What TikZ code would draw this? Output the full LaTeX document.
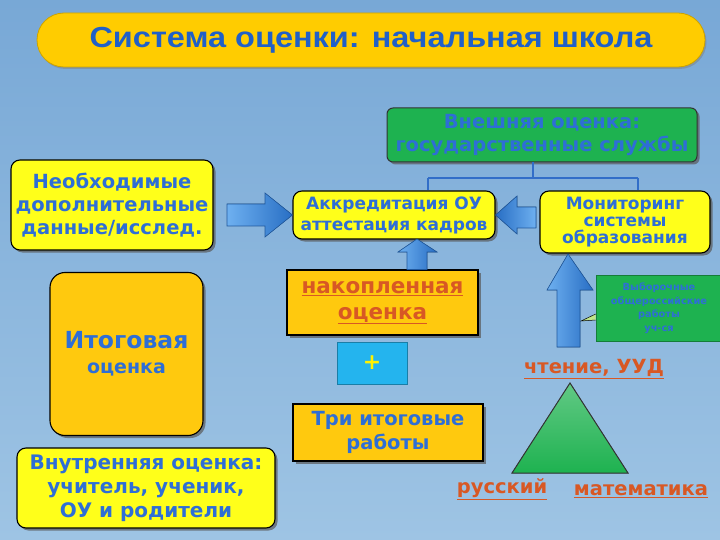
\documentclass[tikz,border=0pt]{standalone}
\usepackage{fontspec}
\setmainfont{DejaVu Sans}
\newfontfamily\titlefont[FakeStretch=1.12]{Liberation Sans}
\usetikzlibrary{shadows,calc}
\definecolor{bgtop}{RGB}{120,168,214}
\definecolor{bgbot}{RGB}{158,196,228}
\definecolor{titlefill}{RGB}{255,204,0}
\definecolor{titleblue}{RGB}{32,96,200}
\definecolor{boxyellow}{RGB}{255,255,26}
\definecolor{boxgold}{RGB}{255,201,14}
\definecolor{boxgreen}{RGB}{30,178,80}
\definecolor{txtblue}{RGB}{46,110,214}
\definecolor{txtorange}{RGB}{216,88,36}
\definecolor{pluscyan}{RGB}{36,180,238}
\definecolor{arrowlight}{RGB}{110,176,240}
\definecolor{arrowdark}{RGB}{40,110,196}
\definecolor{connblue}{RGB}{50,110,200}
\tikzset{
  shad/.style={drop shadow={shadow xshift=2.5pt,shadow yshift=-2.5pt,fill=black!65,opacity=0.7}},
  ybox/.style={draw=black,line width=1.1pt,fill=boxyellow,rounded corners=9pt,shad,align=center,inner sep=0pt,
    font=\bfseries,text=txtblue},
  gbox/.style={draw=black,line width=1.1pt,fill=boxgold,shad,align=center,inner sep=0pt,font=\bfseries,text=txtblue},
  blockarrow/.style={draw=arrowdark!80!black,line width=0.6pt,left color=arrowlight,right color=arrowdark},
  uparrow/.style={draw=arrowdark!80!black,line width=0.6pt,left color=arrowlight,right color=arrowdark},
  conn/.style={draw=connblue,line width=1.6pt},
  orangelbl/.style={text=txtorange,inner sep=0pt},
}
\begin{document}
\begin{tikzpicture}[x=1pt,y=-1pt]
\useasboundingbox (0,0) rectangle (720,540);
\shade[top color=bgtop,bottom color=bgbot] (0,0) rectangle (720,540);

% title
\node[draw=titlefill!80!black,line width=0.8pt,fill=titlefill,rounded corners=27pt,minimum width=668pt,minimum height=54pt,
  drop shadow={shadow xshift=1.5pt,shadow yshift=-2pt,fill=black!50,opacity=0.5},
  font=\titlefont\bfseries\fontsize{29}{32}\selectfont,text=titleblue] (title) at (371,40) {Система оценки: начальная школа};

% external assessment
\node[draw=black!80,line width=1pt,fill=boxgreen,rounded corners=6pt,minimum width=310pt,minimum height=54pt,shad,
  align=center,font=\bfseries\fontsize{19.5}{23.5}\selectfont,text=txtblue,inner sep=0pt] (ext) at (542,135)
  {Внешняя оценка:\\государственные службы};

% yellow boxes
\node[ybox,minimum width=202pt,minimum height=48pt,font=\bfseries\fontsize{17}{21}\selectfont] (accr) at (394,215)
  {Аккредитация ОУ\\аттестация кадров};
\node[ybox,minimum width=170pt,minimum height=62pt,font=\bfseries\fontsize{17}{17}\selectfont] (monit) at (625,222)
  {Мониторинг\\системы\\образования};
\node[ybox,minimum width=202pt,minimum height=90pt,font=\bfseries\fontsize{19.5}{23}\selectfont] (need) at (112,205)
  {Необходимые\\дополнительные\\данные/исслед.};
\node[ybox,minimum width=258pt,minimum height=80pt,font=\bfseries\fontsize{20}{24}\selectfont] (inner) at (146,488)
  {Внутренняя оценка:\\учитель, ученик,\\ОУ и родители};

% gold boxes
\node[gbox,rounded corners=15pt,minimum width=153pt,minimum height=163pt,font=\bfseries\fontsize{23.5}{25}\selectfont] (final) at (126.5,354)
  {Итоговая\\{\fontsize{19}{20}\selectfont оценка}};
\node[gbox,minimum width=191pt,minimum height=65pt,font=\bfseries\fontsize{21.5}{26}\selectfont,text=txtorange] (nakop) at (382.5,302.5)
  {\underline{накопленная}\\\underline{оценка}};
\node[gbox,minimum width=190pt,minimum height=57pt,font=\bfseries\fontsize{19.5}{24}\selectfont] (three) at (388,432.5)
  {Три итоговые\\работы};

% plus button
\node[draw=pluscyan!70!black,line width=0.8pt,fill=pluscyan,minimum width=70pt,minimum height=42pt,
  font=\bfseries\fontsize{22}{22}\selectfont,text=yellow,inner sep=0pt] (plus) at (372,363) {+};

% green callout
\node[draw=boxgreen!70!black,line width=0.6pt,fill=boxgreen,minimum width=126pt,minimum height=66pt,align=center,
  font=\bfseries\fontsize{9.8}{13.5}\selectfont,text=txtblue,inner sep=0pt] (sample) at (659,308)
  {Выборочные\\общероссийские\\работы\\уч-ся};
\coordinate (tail) at (581,321);
\filldraw[fill=yellow!50!green!50,draw=black,line width=0.5pt] ($(sample.west)+(0,6)$) -- (tail) -- ($(sample.west)+(0,12)$);

% triangle
\coordinate (tA) at (570,383);
\coordinate (tB) at (512,473);
\coordinate (tC) at (628,473);
\filldraw[draw=black!80,line width=1pt,top color=boxgreen!70!white,bottom color=boxgreen] (tA) -- (tB) -- (tC) -- cycle;

% labels
\node[orangelbl,font=\bfseries\fontsize{19.5}{22}\selectfont] (rus) at (502,489) {\underline{русский}};
\node[orangelbl,font=\bfseries\fontsize{19.5}{22}\selectfont] (math) at (641,491) {\underline{математика}};
\node[orangelbl,font=\bfseries\fontsize{19.5}{22}\selectfont] (read) at (594,369) {\underline{чтение, УУД}};

% tree connector
\coordinate (extb) at ($(ext.south)+(-9,0)$);
\coordinate (busL) at (428,178);
\coordinate (busR) at (638,178);
\coordinate (busM) at (extb |- busL);
\draw[conn] (extb) -- (busM);
\draw[conn] (busL) -- (busR);
\draw[conn] (busL) -- (busL |- accr.north);
\draw[conn] (busR) -- (busR |- monit.north);

% block arrows
% need -> accr
\filldraw[blockarrow] (227,204) -- (265,204) -- (265,193) -- (accr.west) -- (265,237) -- (265,226) -- (227,226) -- cycle;
% monit -> accr
\filldraw[blockarrow,left color=arrowdark,right color=arrowlight] (536,207) -- (517,207) -- (517,196) -- (accr.east) -- (517,234) -- (517,228) -- (536,228) -- cycle;
% nakop -> accr
\coordinate (nL) at (407,0);
\coordinate (nR) at (427,0);
\filldraw[uparrow] (nL |- nakop.north) -- (407,252) -- (398,252) -- (417,239) -- (437,252) -- (427,252) -- (nR |- nakop.north) -- cycle;
% right tall arrow -> monit
\filldraw[uparrow] (557,347) -- (557,290) -- (547,290) -- (568,254) -- (593,290) -- (580,290) -- (580,347) -- cycle;
\end{tikzpicture}
\end{document}
